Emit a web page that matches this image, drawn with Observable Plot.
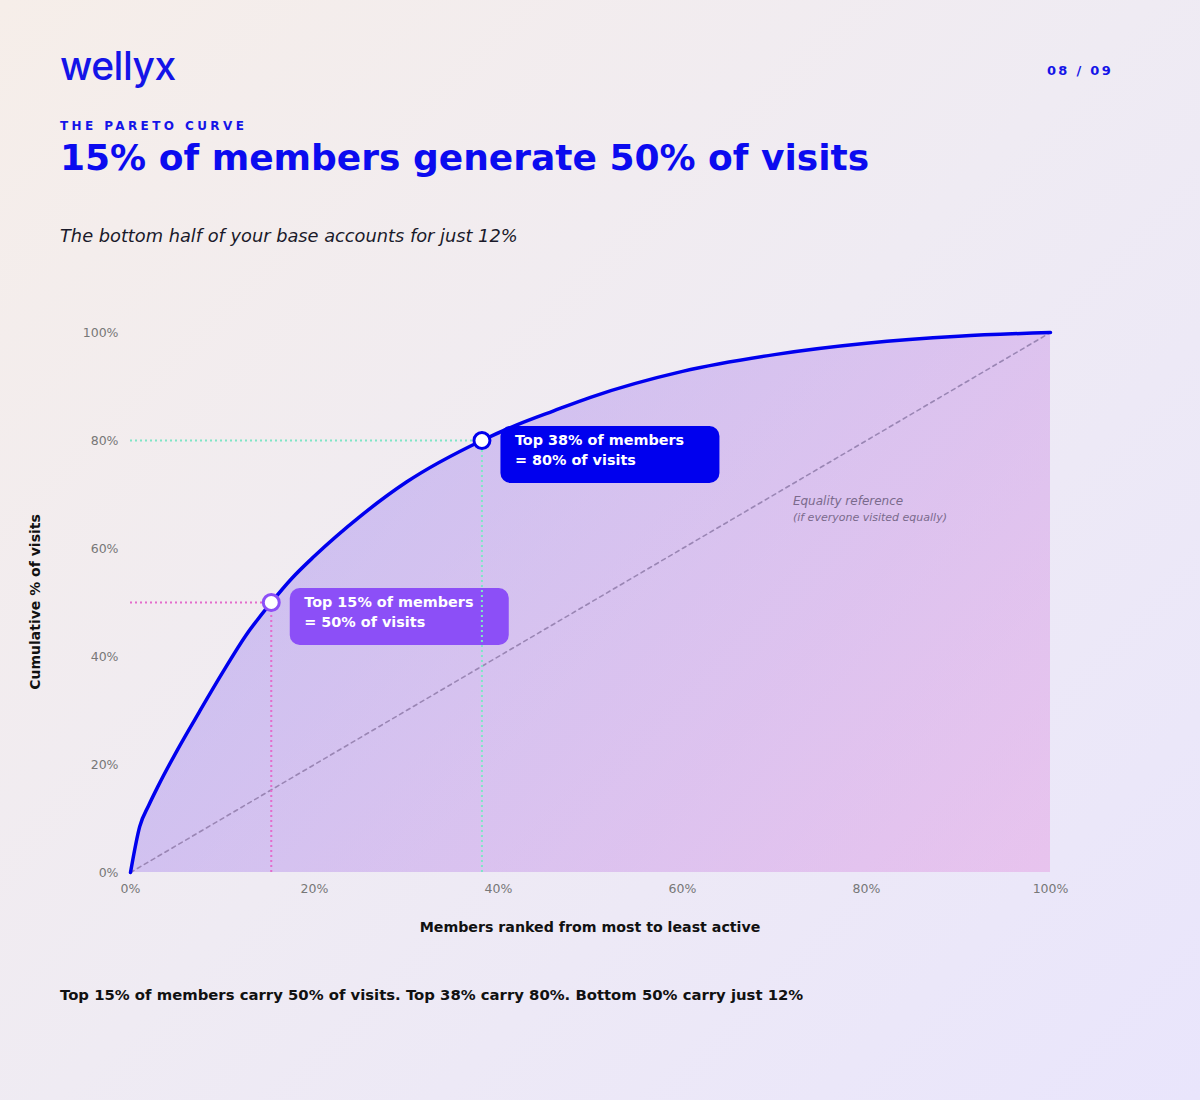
<!DOCTYPE html>
<html><head><meta charset="utf-8">
<script src="https://cdn.jsdelivr.net/npm/d3@7"></script>
<script src="https://cdn.jsdelivr.net/npm/@observablehq/plot@0.6"></script>
<style>
html,body{margin:0;padding:0}
body{width:1200px;height:1100px;position:relative;overflow:hidden;
 background:linear-gradient(135deg,#f6eee9 0%,#efebf3 50%,#e9e5fc 100%);
 font-family:"DejaVu Sans",sans-serif}
.abs{position:absolute;white-space:nowrap;line-height:1}
#logo{left:60px;top:46px;font-family:"Inter",sans-serif;font-size:39px;font-weight:500;color:#1414e8;letter-spacing:-0.5px}
#page{right:87px;top:64px;font-size:13px;font-weight:bold;color:#1414e8;letter-spacing:2.3px}
#kicker{left:60px;top:120px;font-size:12px;font-weight:bold;color:#1414e8;letter-spacing:3.4px}
#title{left:60px;top:140px;font-size:36px;font-weight:bold;color:#0b0bef}
#subtitle{left:60px;top:227px;font-size:17.8px;font-style:italic;color:#1a1a2a}
#chart{position:absolute;left:0;top:300px}
#ylabel{left:35px;top:602px;font-size:14px;font-weight:bold;color:#111;transform:translate(-50%,-50%) rotate(-90deg)}
#xlabel{left:590px;top:920px;font-size:14.2px;font-weight:bold;color:#111;transform:translateX(-50%)}
#footer{left:60px;top:988px;font-size:14.85px;font-weight:bold;color:#111}
</style></head>
<body>
<div class="abs" id="logo">wellyx</div>
<div class="abs" id="page">08 / 09</div>
<div class="abs" id="kicker">THE PARETO CURVE</div>
<div class="abs" id="title">15% of members generate 50% of visits</div>
<div class="abs" id="subtitle">The bottom half of your base accounts for just 12%</div>
<div id="chart"></div>
<div class="abs" id="ylabel">Cumulative % of visits</div>
<div class="abs" id="xlabel">Members ranked from most to least active</div>
<div class="abs" id="footer">Top 15% of members carry 50% of visits. Top 38% carry 80%. Bottom 50% carry just 12%</div>
<script>
// ---- data ----
const members = [0, 1, 2, 3, 5, 7.5, 10, 12.5, 15.3, 17.5, 20, 25, 30, 38.2, 42, 46, 50, 60, 70, 80, 90, 100];
const visits  = [0, 8.5, 12.5, 16, 22.4, 29.8, 37, 43.8, 50, 54.4, 58.6, 66, 72.3, 80, 82.9, 85.5, 88, 92.8, 95.9, 98, 99.3, 100];
const equalityX = [0, 100];
const equalityY = [0, 100];
const markerMembers = [15.3, 38.2];
const markerVisits = [50, 80];
const markerLabels = ["Top 15% of members\n= 50% of visits", "Top 38% of members\n= 80% of visits"];
const markerColors = ["#8c4ff7", "#0000ee"];
const guideColors = ["#e46ccc", "#7ee6c6"];
const xTicks = [0, 20, 40, 60, 80, 100];
const yTicks = [0, 20, 40, 60, 80, 100];
const equalityNote = {x: 72, y: 68.7, line1: "Equality reference", line2: "(if everyone visited equally)"};

const curve = members.map((m, i) => ({m, v: visits[i]}));
const equality = equalityX.map((x, i) => ({x, y: equalityY[i]}));
const markers = markerMembers.map((m, i) => ({m, v: markerVisits[i], label: markerLabels[i], color: markerColors[i], guide: guideColors[i]}));

const chart = Plot.plot({
  width: 1200, height: 660,
  marginLeft: 130, marginRight: 150, marginTop: 32, marginBottom: 88,
  style: {background: "transparent", fontFamily: "DejaVu Sans, sans-serif", fontSize: "12.5px", color: "#777", overflow: "visible"},
  x: {domain: [0, 100], ticks: xTicks, tickFormat: d => d + "%", tickSize: 0, tickPadding: 12, label: null},
  y: {domain: [0, 100], ticks: yTicks, tickFormat: d => d + "%", tickSize: 0, tickPadding: 12, label: null},
  marks: [
    Plot.areaY(curve, {x: "m", y: "v", curve: "monotone-x", fill: "url(#areaGrad)"}),
    Plot.line(equality, {x: "x", y: "y", stroke: "#9a86b4", strokeWidth: 1.6, strokeDasharray: "4,4"}),
    Plot.ruleY(markers, {y: "v", x1: 0, x2: "m", stroke: "guide", strokeWidth: 2, strokeDasharray: "2,3"}),
    Plot.ruleX(markers, {x: "m", y1: 0, y2: "v", stroke: "guide", strokeWidth: 2, strokeDasharray: "2,3"}),
    Plot.line(curve, {x: "m", y: "v", curve: "monotone-x", stroke: "#0000ee", strokeWidth: 3.5}),
    Plot.dot(markers, {x: "m", y: "v", r: 8, fill: "white", stroke: "color", strokeWidth: 3}),
    Plot.text(markers, {x: "m", y: "v", text: "label", dx: 33, dy: 8, textAnchor: "start", lineAnchor: "middle", lineHeight: 1.4, fill: "white", fontWeight: "bold", fontSize: 14.4}),
    Plot.text([equalityNote], {x: "x", y: "y", text: "line1", textAnchor: "start", fill: "#7a6a8c", fontStyle: "italic", fontSize: 12}),
    Plot.text([equalityNote], {x: "x", y: "y", text: "line2", dy: 16, textAnchor: "start", fill: "#7a6a8c", fontStyle: "italic", fontSize: 11})
  ]
});
document.getElementById("chart").appendChild(chart);

const svg = d3.select(chart);
const sx = chart.scale("x"), sy = chart.scale("y");
const defs = svg.insert("defs", ":first-child");
const g = defs.append("linearGradient").attr("id", "areaGrad")
  .attr("gradientUnits", "userSpaceOnUse")
  .attr("x1", sx.apply(30)).attr("y1", sy.apply(100))
  .attr("x2", sx.apply(100)).attr("y2", sy.apply(0));
g.append("stop").attr("offset", "0%").attr("stop-color", "#7a5cf0").attr("stop-opacity", 0.3);
g.append("stop").attr("offset", "100%").attr("stop-color", "#e070d4").attr("stop-opacity", 0.3);

// annotation boxes, placed via the plot's scales, beneath the guide rules
const firstRule = svg.select('g[aria-label="rule"]').node();
const boxes = firstRule
  ? svg.insert("g", () => firstRule).attr("aria-label", "annotation boxes")
  : svg.append("g");
markers.forEach(d => {
  boxes.append("rect")
    .attr("x", sx.apply(d.m) + 19)
    .attr("y", sy.apply(d.v) - 14)
    .attr("width", 219).attr("height", 57)
    .attr("rx", 10).attr("ry", 10)
    .attr("fill", d.color);
});
if (!firstRule) {
  svg.selectAll('g[aria-label="text"]').raise();
}
</script>
</body></html>
